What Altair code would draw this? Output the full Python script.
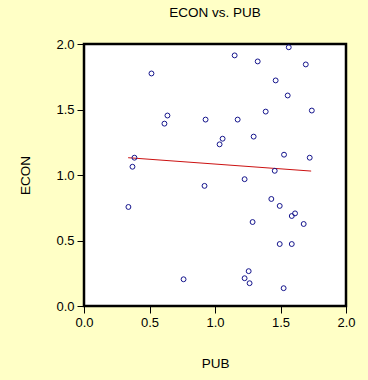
import altair as alt
import pandas as pd

pub = [0.515, 0.637, 0.614, 0.928, 0.385, 0.370, 1.150, 1.326, 1.563, 1.693,
       1.463, 1.555, 1.387, 1.739, 1.173, 1.058, 1.035, 1.295, 1.527, 1.723,
       1.456, 1.226, 0.920, 0.339, 0.760, 1.430, 1.494, 1.586, 1.611, 1.677,
       1.287, 1.494, 1.586, 1.257, 1.226, 1.264, 1.524]
econ = [1.775, 1.454, 1.392, 1.423, 1.132, 1.063, 1.913, 1.867, 1.975, 1.844,
        1.722, 1.607, 1.484, 1.492, 1.423, 1.277, 1.234, 1.293, 1.155, 1.132,
        1.032, 0.968, 0.917, 0.756, 0.204, 0.817, 0.764, 0.687, 0.707, 0.626,
        0.641, 0.473, 0.473, 0.266, 0.212, 0.174, 0.136]

fit_pub = [0.337, 1.734]
fit_econ = [1.132, 1.030]

pts = pd.DataFrame({"PUB": pub, "ECON": econ})
fit = pd.DataFrame({"PUB": fit_pub, "ECON": fit_econ})

xs = alt.Scale(domain=[0, 2], nice=False, zero=False)
ys = alt.Scale(domain=[0, 2], nice=False, zero=False)

font = "Liberation Sans"

xaxis = alt.Axis(values=[0, 0.5, 1.0, 1.5, 2.0], format=".1f", grid=False, domain=False,
                 tickColor="black", tickSize=7, labelPadding=3, labelFontSize=13,
                 labelFont=font, labelColor="black", title="PUB", titleFont=font,
                 titleFontSize=13.5, titleFontWeight="normal", titleColor="black",
                 titlePadding=27, labelFlush=False)
yaxis = alt.Axis(values=[0, 0.5, 1.0, 1.5, 2.0], format=".1f", grid=False, domain=False,
                 tickColor="black", tickSize=7, labelPadding=3, labelFontSize=13,
                 labelFont=font, labelColor="black", title="ECON", titleFont=font,
                 titleFontSize=13.5, titleFontWeight="normal", titleColor="black",
                 titlePadding=23, labelFlush=False)

points = alt.Chart(pts).mark_point(shape="circle", filled=False, color="#14148c",
                                   size=24, strokeWidth=1, opacity=1).encode(
    x=alt.X("PUB:Q", scale=xs, axis=xaxis),
    y=alt.Y("ECON:Q", scale=ys, axis=yaxis),
)

line = alt.Chart(fit).mark_line(color="#cc1111", strokeWidth=1).encode(
    x=alt.X("PUB:Q", scale=xs),
    y=alt.Y("ECON:Q", scale=ys),
)

chart = alt.layer(line, points).properties(
    width=262, height=262,
    title=alt.TitleParams("ECON vs. PUB", font=font, fontSize=13.5, fontWeight="normal",
                          color="black", offset=19),
    autosize=alt.AutoSizeParams(type="none"),
    padding={"left": 84, "top": 44, "right": 22, "bottom": 74},
    background="#ffffc6",
).configure_view(stroke="black", strokeWidth=2.5, fill="white")

chart.save("out.html", embed_options={"renderer": "svg", "actions": False})
